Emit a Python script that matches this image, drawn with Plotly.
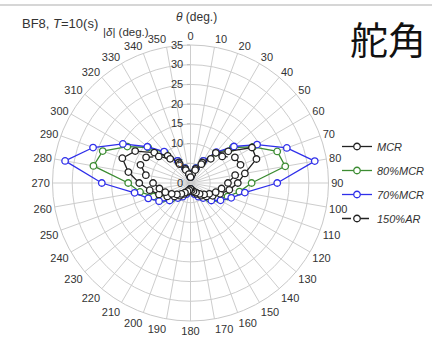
import plotly.graph_objects as go

# Heading angle theta (deg.), 10-degree steps
theta = list(range(0, 360, 10))

# Rudder angle |delta| (deg.) for each condition
mcr = [1.5, 2.3, 3.8, 6.0, 10.0, 12.5, 18.0, 17.8, 14.0, 12.0, 10.0, 8.0,
       6.5, 5.3, 4.2, 3.2, 2.5, 2.0, 1.5, 2.0, 2.5, 3.2, 4.2, 5.3,
       6.8, 8.5, 10.5, 13.0, 16.0, 18.4, 16.2, 12.0, 9.0, 6.0, 3.8, 2.3]
mcr80 = [1.5, 2.5, 4.0, 6.5, 10.0, 14.0, 18.3, 23.4, 24.4, 15.5, 12.6, 10.0,
         8.0, 6.3, 4.8, 3.8, 2.8, 2.0, 1.5, 2.0, 2.8, 3.8, 4.8, 6.3,
         8.0, 10.0, 13.0, 15.8, 25.0, 23.7, 18.5, 14.0, 10.0, 6.5, 4.0, 2.5]
mcr70 = [1.5, 2.5, 4.0, 6.5, 10.2, 14.4, 19.5, 26.0, 32.0, 22.0, 14.0, 11.0,
         8.8, 6.9, 5.0, 4.0, 3.0, 2.2, 1.5, 2.2, 3.0, 4.0, 5.0, 6.9,
         9.2, 11.4, 14.4, 22.5, 32.3, 26.3, 19.8, 14.3, 10.4, 6.5, 4.0, 2.5]
ar150 = [1.5, 2.3, 3.5, 5.5, 8.0, 10.5, 13.0, 13.5, 11.5, 9.5, 8.0, 6.8,
         5.5, 4.5, 3.6, 2.8, 2.2, 1.8, 1.5, 1.8, 2.2, 2.8, 3.6, 4.5,
         5.5, 6.8, 8.0, 9.5, 11.5, 13.5, 13.0, 10.5, 8.0, 5.5, 3.5, 2.3]

theta_ticks = list(range(0, 360, 10))
r_ticks = list(range(0, 40, 5))

series = [
    # name, values, colour, dash, legend rank
    ("80%MCR", mcr80, "#3c8c32", "solid", 2),
    ("70%MCR", mcr70, "#2f2fea", "solid", 3),
    ("MCR", mcr, "#222222", "solid", 1),
    ("150%AR", ar150, "#222222", "dash", 4),
]

fig = go.Figure()
for name, vals, color, dash, rank in series:
    fig.add_trace(go.Scatterpolar(
        r=vals + [vals[0]],
        theta=theta + [360],
        mode="lines+markers",
        name=f"<i>{name}</i>",
        legendgroup=name,
        legendrank=rank,
        line=dict(color=color, width=1.3, dash=dash),
        marker=dict(symbol="circle", size=6.5, color="white",
                    line=dict(color=color, width=1.3)),
    ))

W, H = 432, 348
cx, cy, R = 190.5, 183.0, 138.0

fig.update_layout(
    width=W, height=H,
    margin=dict(l=0, r=0, t=0, b=0),
    paper_bgcolor="white",
    font=dict(family="Liberation Sans, Arial, sans-serif", size=11, color="#333333"),
    polar=dict(
        domain=dict(x=[(cx - R) / W, (cx + R) / W],
                    y=[(H - cy - R) / H, (H - cy + R) / H]),
        bgcolor="white",
        angularaxis=dict(
            rotation=90, direction="clockwise",
            tickmode="array", tickvals=theta_ticks,
            ticktext=[str(t) for t in theta_ticks],
            showline=True, linecolor="#c8c8c8", linewidth=1,
            gridcolor="#cdcdcd", gridwidth=1,
            ticks="", tickfont=dict(size=11, color="#333333"),
        ),
        radialaxis=dict(
            range=[0, 35], tickmode="array", tickvals=r_ticks,
            ticktext=[str(v) for v in r_ticks],
            angle=90, side="counterclockwise", tickangle=90,
            showline=False, gridcolor="#cdcdcd", gridwidth=1,
            ticks="outside", ticklen=3, tickcolor="#bdbdbd",
            tickfont=dict(size=11, color="#333333"),
        ),
    ),
    showlegend=True,
    legend=dict(
        x=337 / W, y=1 - 132 / H, xanchor="left", yanchor="top",
        traceorder="grouped", tracegroupgap=5,
        bgcolor="rgba(0,0,0,0)",
        font=dict(size=11, color="#333333"),
        itemwidth=30,
    ),
    shapes=[dict(type="line", xref="paper", yref="paper",
                 x0=0, x1=1, y0=1 - 5 / H, y1=1 - 5 / H,
                 line=dict(color="#c8c8c8", width=1.5))],
    annotations=[
        dict(text="BF8, <i>T</i>=10(s)", x=20 / W, y=1 - 23 / H,
             xref="paper", yref="paper", xanchor="left", yanchor="middle",
             showarrow=False, font=dict(size=13, color="#333333")),
        dict(text="|<i>δ</i>| (deg.)", x=101 / W, y=1 - 32 / H,
             xref="paper", yref="paper", xanchor="left", yanchor="middle",
             showarrow=False, font=dict(size=11.5, color="#333333")),
        dict(text="<i>θ</i> (deg.)", x=196 / W, y=1 - 17 / H,
             xref="paper", yref="paper", xanchor="center", yanchor="middle",
             showarrow=False, font=dict(size=12, color="#333333")),
        dict(text="舵角", x=388 / W, y=1 - 37 / H,
             xref="paper", yref="paper", xanchor="center", yanchor="middle",
             showarrow=False,
             font=dict(size=38, color="#111111", family="Noto Sans CJK JP")),
    ],
)

fig.write_html("out.html")
